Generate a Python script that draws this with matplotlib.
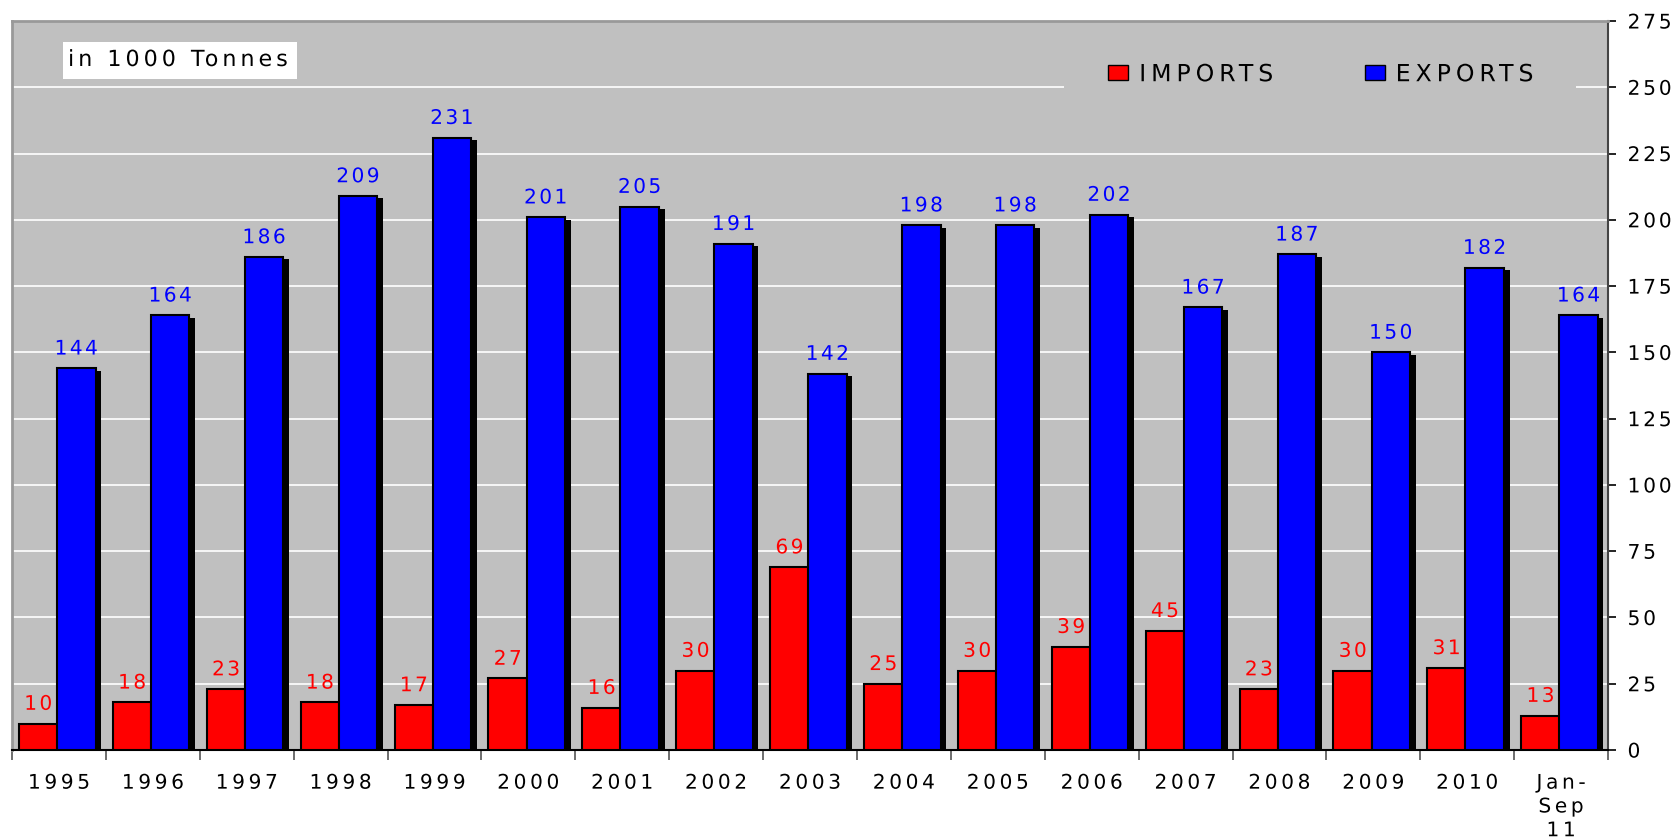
import numpy as np
import matplotlib.pyplot as plt
from matplotlib.patches import Rectangle, Patch
from matplotlib.patheffects import AbstractPathEffect
from matplotlib.path import Path

years = ['1995', '1996', '1997', '1998', '1999', '2000', '2001', '2002', '2003',
         '2004', '2005', '2006', '2007', '2008', '2009', '2010', 'Jan-\nSep\n11']
imports = [10, 18, 23, 18, 17, 27, 16, 30, 69, 25, 30, 39, 45, 23, 30, 31, 13]
exports = [144, 164, 186, 209, 231, 201, 205, 191, 142, 198, 198, 202, 167, 187, 150, 182, 164]


class LetterSpacing(AbstractPathEffect):
    """Spread the glyphs of a text path apart (extra is in 1/100 em)."""

    def __init__(self, extra, centered=True):
        super().__init__()
        self.extra = extra
        self.centered = centered

    def draw_path(self, renderer, gc, tpath, affine, rgbFace=None):
        verts = np.array(tpath.vertices, dtype=float)
        codes = tpath.codes
        if codes is None or len(verts) == 0:
            renderer.draw_path(gc, tpath, affine, rgbFace)
            return
        starts = list(np.flatnonzero(codes == Path.MOVETO)) + [len(verts)]
        contours = []
        for s, e in zip(starts[:-1], starts[1:]):
            keep = codes[s:e] != Path.CLOSEPOLY
            xs = verts[s:e][keep, 0]
            if len(xs):
                contours.append((xs.min(), xs.max(), s, e))
        contours.sort()
        slot = -1
        gx0 = gx1 = None
        for x0, x1, s, e in contours:
            if gx1 is not None and gx1 - x0 > 0.5 * min(x1 - x0, gx1 - gx0):
                gx1 = max(gx1, x1)
            else:
                if gx1 is not None and x0 - gx1 > 28:
                    slot += 1  # a space between words
                slot += 1
                gx0, gx1 = x0, x1
            verts[s:e, 0] += slot * self.extra
        if self.centered and slot > 0:
            verts[:, 0] -= slot * self.extra / 2
        renderer.draw_path(gc, Path(verts, codes), affine, rgbFace)


plt.rcParams['font.family'] = 'DejaVu Sans'

fig = plt.figure(figsize=(16.81, 8.4), dpi=100)
ax = fig.add_axes([0.00714, 0.1071, 0.9495, 0.8679])
ax.set_facecolor('#C0C0C0')

x = np.arange(len(years))
w = 0.41

# drop shadows behind the bars
ax.bar(x + 0.075 + 0.06, np.array(imports) - 0.9, w, align='edge', color='black', zorder=2)
ax.bar(x + 0.48 + 0.06, np.array(exports) - 0.9, w, align='edge', color='black', zorder=2)

b_imp = ax.bar(x + 0.075, imports, w, align='edge', color='#FF0000',
               edgecolor='black', linewidth=1.5, zorder=3, label='IMPORTS')
b_exp = ax.bar(x + 0.48, exports, w, align='edge', color='#0000FF',
               edgecolor='black', linewidth=1.5, zorder=3, label='EXPORTS')

lbls = ax.bar_label(b_imp, padding=7, color='#FF0000', fontsize=14.5, zorder=4)
lbls += ax.bar_label(b_exp, padding=7, color='#0000FF', fontsize=14.5, zorder=4)
for t in lbls:
    t.set_path_effects([LetterSpacing(12)])

ax.set_xlim(0, len(years))
ax.set_ylim(0, 275)
ax.set_yticks(np.arange(0, 276, 25))
ax.yaxis.tick_right()
ax.tick_params(axis='y', labelsize=14.5, length=6, width=1.2, pad=8, colors='black')
ax.grid(axis='y', color='white', linewidth=1.2, zorder=1)
ax.set_axisbelow(True)

ax.set_xticks(x + 0.5)
ax.set_xticklabels(years, fontsize=14.5, linespacing=1.32)
ax.set_xticks(np.arange(len(years) + 1), minor=True)
ax.tick_params(axis='x', which='major', length=0, pad=17)
ax.tick_params(axis='x', which='minor', length=7, width=1.2, color='#555555')

for t in ax.get_xticklabels():
    t.set_path_effects([LetterSpacing(18)])
for t in ax.get_yticklabels():
    t.set_path_effects([LetterSpacing(14, centered=False)])

ax.spines['left'].set_color('#999999')
ax.spines['left'].set_linewidth(2)
ax.spines['top'].set_color('#999999')
ax.spines['top'].set_linewidth(2)
ax.spines['right'].set_color('#444444')
ax.spines['right'].set_linewidth(1.5)
ax.spines['bottom'].set_color('black')
ax.spines['bottom'].set_linewidth(1.5)

# unit note on a white box
ax.add_patch(Rectangle((0.032, 0.9204), 0.1466, 0.0508, transform=ax.transAxes,
                       facecolor='white', edgecolor='none', zorder=5))
note = ax.text(0.0351, 0.9465, 'in 1000 Tonnes', transform=ax.transAxes,
               fontsize=16, va='center', ha='left', zorder=6)
note.set_path_effects([LetterSpacing(18, centered=False)])

# legend area
ax.add_patch(Rectangle((0.659, 0.87), 0.321, 0.1, transform=ax.transAxes,
                       facecolor='#C0C0C0', edgecolor='none', zorder=4))
handles = [Patch(facecolor='#FF0000', edgecolor='black', label='IMPORTS'),
           Patch(facecolor='#0000FF', edgecolor='black', label='EXPORTS')]
leg = ax.legend(handles=handles, loc='center left', bbox_to_anchor=(0.6867, 0.927),
                ncol=2, frameon=False, fontsize=17, handlelength=0.85,
                handleheight=0.6, handletextpad=0.47, columnspacing=5.1,
                borderpad=0, borderaxespad=0)
leg.set_zorder(6)
for t in leg.get_texts():
    t.set_path_effects([LetterSpacing(21, centered=False)])

fig.savefig('out.png', dpi=100, facecolor='white')
